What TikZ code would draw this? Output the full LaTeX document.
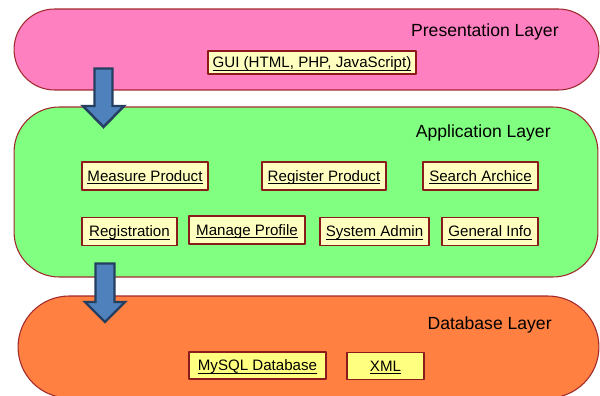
\documentclass[tikz,border=0pt]{standalone}
\usepackage{fontspec}
\setmainfont{Liberation Sans}
\usepackage{xcolor}
\usepackage{tikz}
\usetikzlibrary{arrows.meta}
\definecolor{presfill}{HTML}{FF80C0}
\definecolor{appfill}{HTML}{80FF80}
\definecolor{dbfill}{HTML}{FF8040}
\definecolor{layerline}{HTML}{A0282C}
\definecolor{boxfill}{HTML}{FFFFC0}
\definecolor{dbboxfill}{HTML}{FFFF80}
\definecolor{boxline}{HTML}{8B1A1A}
\definecolor{arrfill}{HTML}{4F81BD}
\definecolor{arrline}{HTML}{243F60}
\newsavebox{\linkbox}
\newcommand{\linktext}[1]{\sbox{\linkbox}{#1}\smash{\rlap{\rule[-1.4pt]{\wd\linkbox}{0.5pt}}}\usebox{\linkbox}}

\begin{document}
\begin{tikzpicture}[line cap=round,line join=round,x=0.02cm,y=-0.02cm,
  layer/.style={draw=layerline,line width=0.6pt,inner sep=0pt},
  title/.style={anchor=east,inner sep=0pt,text height=7.2pt,text depth=0pt,font=\fontsize{10}{12}\selectfont},
  modbox/.style={draw=boxline,line width=0.6pt,fill=boxfill,inner sep=0pt,
    minimum height=0.56cm,text height=6.2pt,text depth=0pt,font=\fontsize{8.6}{10}\selectfont},
  blockarrow/.style={draw=arrline,fill=arrfill,line width=1.4pt,line join=miter}]
\clip (0,0) rectangle (600,396);
% layers
\node[layer,fill=presfill,rounded corners=0.81cm,minimum width=11.7cm,minimum height=1.62cm] (pres) at (306.5,49.5) {};
\node[layer,fill=appfill,rounded corners=0.9cm,minimum width=11.68cm,minimum height=3.4cm] (app) at (306,192) {};
\node[layer,fill=dbfill,rounded corners=1.02cm,minimum width=11.62cm,minimum height=2.04cm] (db) at (308.5,347) {};
\node[title] (prest) at (559,30) {Presentation Layer};
\node[title] (appt) at (551,131) {Application Layer};
\node[title] (dbt) at (552,323) {Database Layer};
% arrows between layers
\draw[blockarrow] (94.5,68.5) -- (112.5,68.5) -- (112.5,106) -- (124,106) -- (103.5,127) -- (83,106) -- (94.5,106) -- cycle;
\draw[blockarrow] (95.5,263.5) -- (114.5,263.5) -- (114.5,302) -- (125,302) -- (105,322) -- (85,302) -- (95.5,302) -- cycle;
% modules
\node[modbox,minimum width=4.16cm,minimum height=0.46cm] (gui) at (312,62.5) {\linktext{GUI (HTML, PHP, JavaScript)}};
\node[modbox,minimum width=2.52cm] (measure) at (145,176) {\linktext{Measure Product}};
\node[modbox,minimum width=2.48cm] (register) at (324,176) {\linktext{Register Product}};
\node[modbox,minimum width=2.3cm] (search) at (480.5,176) {\linktext{Search Archice}};
\node[modbox,minimum width=1.9cm] (registration) at (129.5,231.5) {\linktext{Registration}};
\node[modbox,minimum width=2.32cm] (profile) at (247,230) {\linktext{Manage Profile}};
\node[modbox,minimum width=2.18cm] (sysadmin) at (374.5,231.5) {\linktext{System Admin}};
\node[modbox,minimum width=1.92cm] (geninfo) at (490,231.5) {\linktext{General Info}};
\node[modbox,fill=dbboxfill,minimum width=2.74cm,minimum height=0.54cm] (mysql) at (257.5,365.5) {\linktext{MySQL Database}};
\node[modbox,fill=dbboxfill,minimum width=1.54cm,minimum height=0.54cm] (xml) at (385.5,366) {\linktext{XML}};
\end{tikzpicture}
\end{document}
